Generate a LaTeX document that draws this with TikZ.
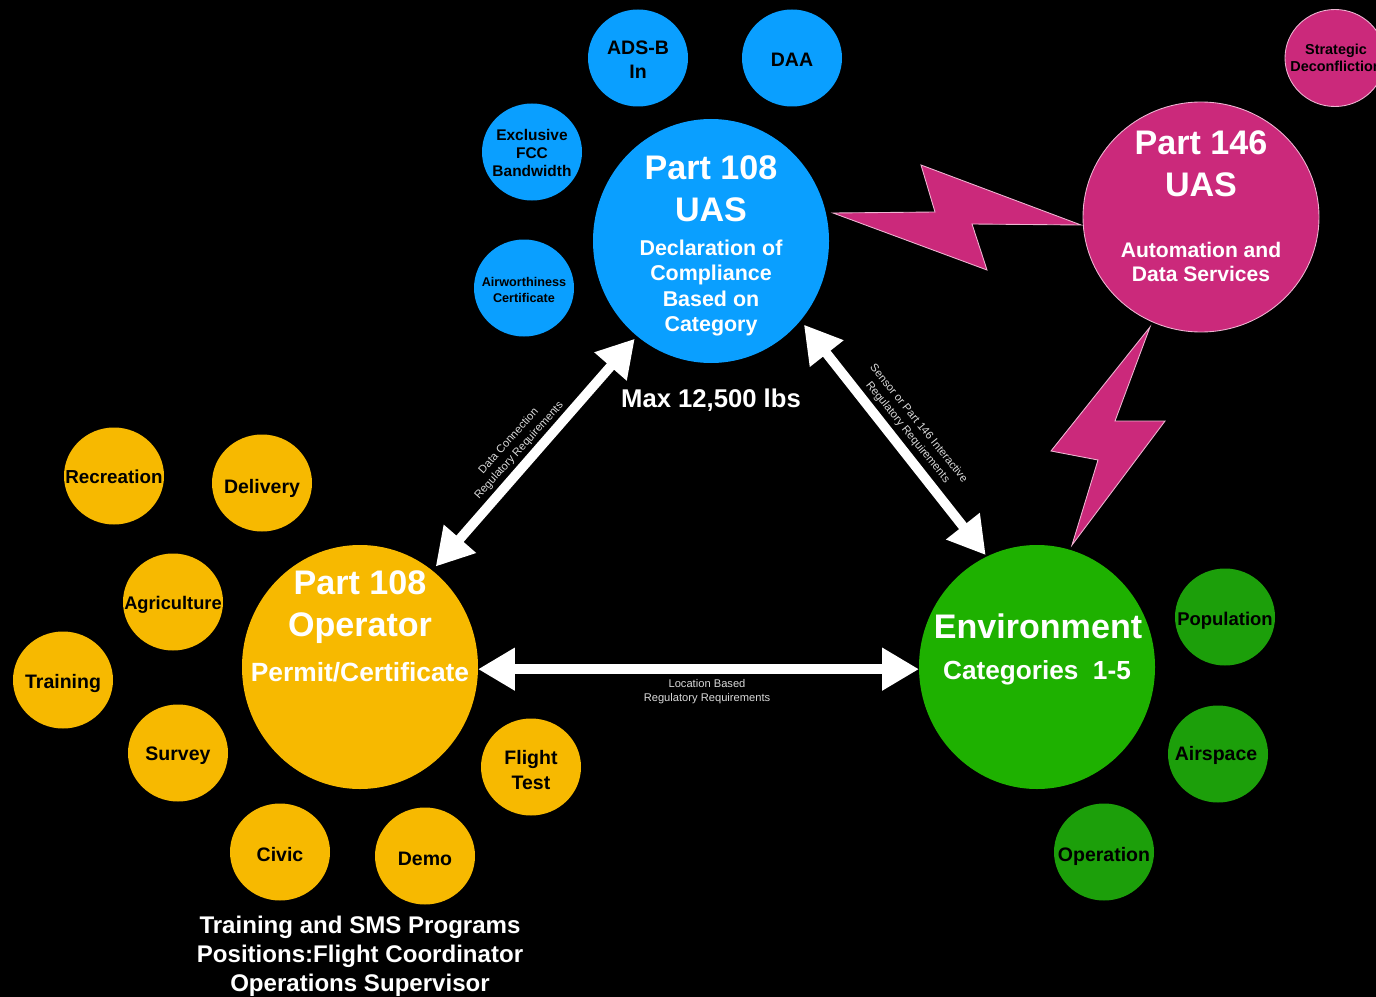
\documentclass[tikz,border=0pt]{standalone}
\usepackage{fontspec}
\setmainfont{Liberation Sans}
\usetikzlibrary{arrows.meta,shapes.geometric}
\definecolor{uascol}{HTML}{0A9FFF}
\definecolor{opcol}{HTML}{F7B900}
\definecolor{envcol}{HTML}{1EB100}
\definecolor{envsub}{HTML}{1C9F0A}
\definecolor{svccol}{HTML}{CB297B}
\tikzset{
  x=0.02cm,y=-0.02cm,
  big/.style={ellipse,inner sep=0pt,outer sep=3pt,minimum width=236*0.02cm,minimum height=244*0.02cm},
  small/.style={ellipse,inner sep=0pt,minimum width=100*0.02cm,minimum height=97*0.02cm},
  word/.style={align=center,text=black,inner sep=0pt,font=\bfseries\fontsize{11.1}{13.7}\selectfont},
  title/.style={align=center,text=white,inner sep=0pt,font=\bfseries\fontsize{19.4}{24}\selectfont},
  sub/.style={align=center,text=white,inner sep=0pt,font=\bfseries\fontsize{12.2}{14.6}\selectfont},
  note/.style={align=center,text=white!85!black,inner sep=0pt,font=\fontsize{6.35}{8}\selectfont},
  link/.style={<->,>={Triangle[length=21pt,width=23pt]},draw=white,line width=5.5pt},
  bolt/.style={fill=svccol,draw=white!65!svccol,line width=0.5pt}
}
\begin{document}
\begin{tikzpicture}
\fill[black](0,0)rectangle(1376,997);
\useasboundingbox(0,0)rectangle(1376,997);
% main circles
\node[big,fill=uascol](uas) at (711,241) {};
\node[big,fill=opcol](oper) at (360,667) {};
\node[big,fill=envcol](env) at (1037,667) {};
\node[big,fill=svccol,draw=white!65!svccol,line width=0.5pt,minimum height=230*0.02cm](svc) at (1201,217) {};
% bolts
\draw[bolt](833,213)--(935,212)--(921,165)--(1081,225)--(972,224)--(987,270)--cycle;
\draw[bolt](1150,327)--(1115,421)--(1165,421)--(1072,545)--(1098,460)--(1051,451)--cycle;
% links
\draw[link,shorten <=-1pt](uas.232)--(oper.53);
\draw[link,shorten >=-2pt](uas.-42)--(env.115);
\draw[link,shorten <=-3pt,shorten >=-3pt](oper.-1)--(env.181);
% titles
\node[title](uasT) at (711,189) {Part 108\\UAS};
\node[sub](uasS) at (711,288) {Declaration of\\Compliance\\Based on\\Category};
\node[title](operT) at (360,607) {Part 108\\Operator};
\node[sub,font=\bfseries\fontsize{15}{18}\selectfont](operS) at (360,672) {Permit/Certificate};
\node[title](envT) at (1038,626) {Environment};
\node[sub,font=\bfseries\fontsize{14.9}{18}\selectfont](envS) at (1037,673) {Categories\ \ 1-5};
\node[title](svcT) at (1201,164) {Part 146\\UAS};
\node[sub,font=\bfseries\fontsize{12}{13.8}\selectfont](svcS) at (1201,262) {Automation and\\Data Services};
\node[sub,font=\bfseries\fontsize{14.6}{17}\selectfont](maxW) at (711,400) {Max 12,500 lbs};
\node[sub,font=\bfseries\fontsize{13.7}{16.6}\selectfont](prog) at (360,956) {Training and SMS Programs\\Positions:Flight Coordinator\\Operations Supervisor};
% link notes
\node[note,rotate=48](noteA) at (514,446) {Data Connection\\Regulatory Requirements};
\node[note,rotate=-51](noteB) at (913,428) {Sensor or Part 146 Interactive\\Regulatory Requirements};
\node[note](noteC) at (707,692) {Location Based\\Regulatory Requirements};
% blue
\node[small,fill=uascol](adsb) at (638,58) {};
\node[word](adsbT) at (638,60) {ADS-B\\In};
\node[small,fill=uascol](daa) at (792,58) {};
\node[word](daaT) at (792,60) {DAA};
\node[small,fill=uascol](fcc) at (532,152) {};
\node[word,font=\bfseries\fontsize{8.8}{10.4}\selectfont](fccT) at (532,153) {Exclusive\\FCC\\Bandwidth};
\node[small,fill=uascol](cert) at (524,288) {};
\node[word,font=\bfseries\fontsize{7.2}{9}\selectfont](certT) at (524,290) {Airworthiness\\Certificate};
% orange
\node[small,fill=opcol](rec) at (114,476) {};
\node[word,font=\bfseries\fontsize{10.7}{13}\selectfont](recT) at (114,477) {Recreation};
\node[small,fill=opcol](deliv) at (262,483) {};
\node[word](delivT) at (262,488) {Delivery};
\node[small,fill=opcol](agri) at (173,602) {};
\node[word,font=\bfseries\fontsize{10.4}{13}\selectfont](agriT) at (173,605) {Agriculture};
\node[small,fill=opcol](train) at (63,680) {};
\node[word](trainT) at (63,683) {Training};
\node[small,fill=opcol](surv) at (178,753) {};
\node[word](survT) at (178,756) {Survey};
\node[small,fill=opcol](civic) at (280,852) {};
\node[word](civicT) at (280,855) {Civic};
\node[small,fill=opcol](demo) at (425,856) {};
\node[word](demoT) at (425,859) {Demo};
\node[small,fill=opcol](ftest) at (531,767) {};
\node[word](ftestT) at (531,770) {Flight\\Test};
% green
\node[small,fill=envsub](popu) at (1225,617) {};
\node[word,font=\bfseries\fontsize{10.5}{13}\selectfont](popuT) at (1225,621) {Population};
\node[small,fill=envsub](air) at (1218,754) {};
\node[word](airT) at (1216,755) {Airspace};
\node[small,fill=envsub](opn) at (1104,852) {};
\node[word](opnT) at (1104,856) {Operation};
% magenta
\node[small,fill=svccol,draw=white!65!svccol,line width=0.5pt](decon) at (1335,58) {};
\node[word,font=\bfseries\fontsize{8.2}{9.8}\selectfont](deconT) at (1336,58) {Strategic\\Deconfliction};
\end{tikzpicture}
\end{document}
